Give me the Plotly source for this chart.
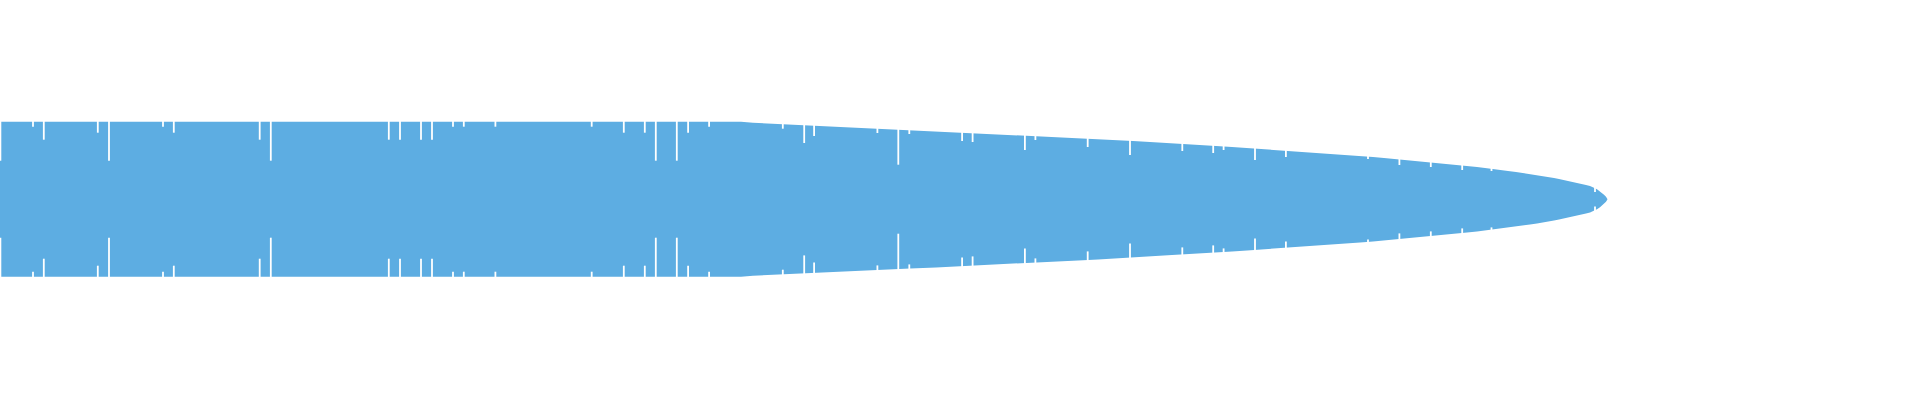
import plotly.graph_objects as go

# Envelope of the shape: position along the axis and half-height of the band
env_x = [0, 741, 753, 774, 790, 806, 826, 848, 868, 888, 910, 936, 955, 980, 1000,
         1017, 1042, 1059, 1078, 1098, 1115, 1133, 1150, 1170, 1188, 1200, 1216, 1232,
         1247, 1263, 1278, 1293, 1307, 1320, 1333, 1347, 1360, 1373, 1384, 1395, 1406,
         1417, 1426, 1438, 1448, 1457, 1467, 1477, 1485, 1495, 1500, 1508, 1516, 1523,
         1530, 1537, 1543, 1549, 1554, 1559, 1564, 1569, 1573, 1578, 1582, 1586, 1590,
         1593, 1595, 1597, 1600, 1602, 1604, 1606, 1607.5]
env_h = [77.5, 77.5, 76.5, 75.5, 74.5, 74.2, 73.2, 72.2, 71.2, 70.2, 69.2, 68.2, 67.2, 66.2, 65.2,
         64.2, 63.2, 62.2, 61.2, 60.2, 59.2, 58.2, 57.2, 56.2, 55.2, 54.2, 53.2, 52.2,
         51.2, 50.2, 49.2, 48.2, 47.2, 46.2, 45.2, 44.2, 43.2, 42.2, 41.2, 40.2, 39.2,
         38.2, 37.2, 36.2, 35.2, 34.2, 33.2, 32.2, 31.2, 30.2, 29.2, 28.2, 27.2, 26.2,
         25.2, 24.2, 23.2, 22.2, 21.2, 20.2, 19.2, 18.2, 17.2, 16.2, 15.2, 14.2, 13.2,
         12.2, 11.0, 10.0, 8.0, 6.0, 4.5, 2.5, 0.0]

# Narrow dips: position and remaining half-height of the band at that position
dip_x = [0.4, 33.0, 43.8, 97.8, 109.0, 163.0, 173.8, 259.7, 270.8, 388.8, 400.0, 421.0,
         432.0, 453.0, 463.8, 495.4, 591.7, 623.8, 644.8, 655.8, 676.8, 688.1, 709.1,
         782.8, 804.2, 814.1, 877.4, 898.3, 909.3, 962.1, 972.6, 1024.9, 1035.4, 1087.7,
         1130.0, 1182.3, 1213.2, 1223.6, 1255.0, 1285.9, 1368.0, 1399.4, 1430.8, 1462.2,
         1491.5, 1595.0]
dip_h = [38.5, 72.5, 59.5, 66.5, 38.5, 72.5, 66.5, 59.5, 38.5, 59.5, 59.5, 59.5,
         59.5, 72.5, 72.5, 72.5, 72.5, 66.5, 66.5, 38.5, 38.5, 66.5, 72.5,
         70.5, 56.2, 63.2, 66.2, 34.5, 65.2, 58.2, 57.2, 49.2, 59.2, 52.2,
         44.2, 48.2, 46.2, 49.2, 39.2, 42.2, 40.2, 34.2, 32.2, 29.2,
         28.2, 7.2]

BLUE = "#5DADE2"
TOP = 90  # beyond the band, white on white

fig = go.Figure()

# band (upper edge forward, lower edge backward)
band_x = env_x + env_x[::-1]
band_y = env_h + [-v for v in env_h[::-1]]
fig.add_trace(go.Scatter(x=band_x, y=band_y, mode="lines", fill="toself",
                         fillcolor=BLUE, line=dict(width=0, color=BLUE),
                         hoverinfo="skip", showlegend=False))

# dips (symmetric at top and bottom)
dx, dy = [], []
for x, h in zip(dip_x, dip_h):
    dx += [x, x, None, x, x, None]
    dy += [h, TOP, None, -h, -TOP, None]
fig.add_trace(go.Scatter(x=dx, y=dy, mode="lines",
                         line=dict(color="white", width=1.8),
                         hoverinfo="skip", showlegend=False))

fig.update_layout(
    width=1920, height=400,
    margin=dict(l=0, r=0, t=0, b=0),
    paper_bgcolor="white", plot_bgcolor="white",
    showlegend=False,
    xaxis=dict(visible=False, range=[0, 1920], fixedrange=True),
    yaxis=dict(visible=False, range=[-200.8, 199.2], fixedrange=True),
)

fig.write_html("out.html", config={"displayModeBar": False},
               post_script="document.body.style.margin='0';")
